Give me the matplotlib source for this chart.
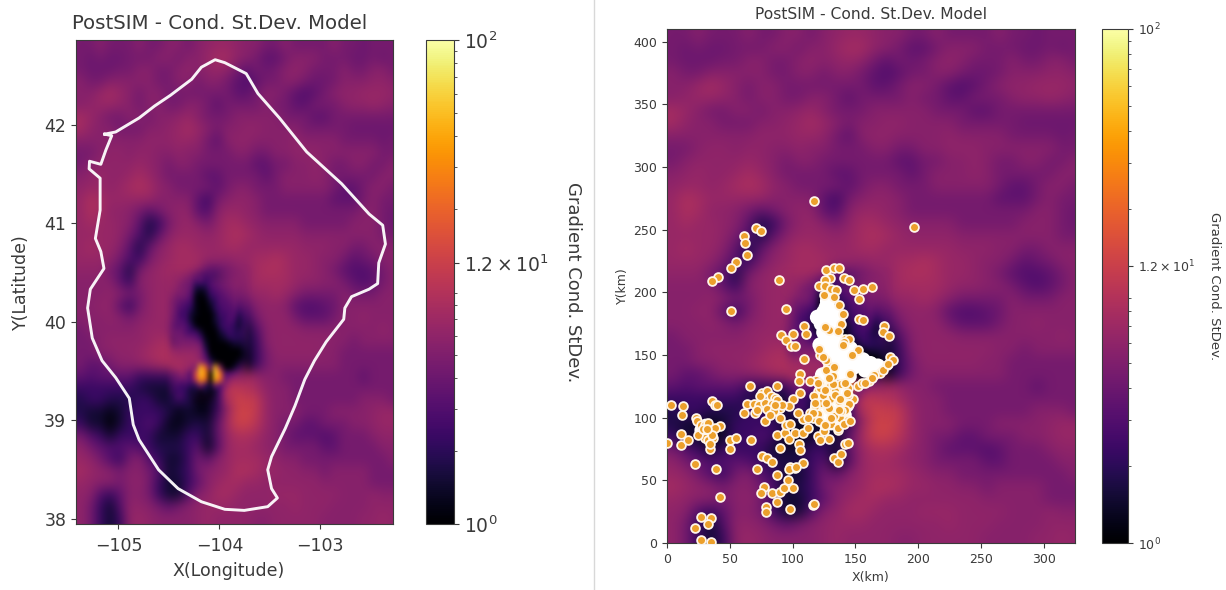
import matplotlib
matplotlib.use("Agg")
import matplotlib.pyplot as plt
import numpy as np
from matplotlib.colors import LogNorm
from matplotlib.ticker import LogLocator, NullFormatter
from matplotlib.lines import Line2D

# Field: rows from y=405 km down to y=5 km, columns x=5..325 km
st_dev = [
[4.5,4.5,5.5,4.5,4.5,4.5,5.5,4.5,4.5,5.5,5.5,4.5,5.5,6,6.5,6.5,6,5.5,5.5,4.5,4.5,5.5,4.5,4.5,4.5,4.5,5.5,4.5,4.5,4,4.5,4.5,4.5],
[4.5,4,4.5,4,4,4.5,4.5,4.5,5.5,5.5,4.5,5.5,5.5,6.5,7.5,7.5,6,5.5,4.5,3.5,3.5,4.5,5.5,5.5,5.5,4.5,4.5,4.5,4,4,4.5,4,4.5],
[4.5,4,4,4,4.5,4.5,5.5,5.5,4.5,4.5,5.5,6,5.5,6,6.5,6,4.5,3.5,4.5,4,4.5,5.5,6,5.5,4.5,4.5,4.5,5.5,4.5,4.5,5.5,5.5,4.5],
[5.5,4.5,4.5,5.5,5.5,5.5,5.5,5.5,4.5,4.5,5.5,5.5,4.5,5.5,5.5,4.5,3.5,3,3.5,4.5,4.5,5.5,5.5,4.5,4,4,4.5,5.5,5.5,5.5,6,6,5.5],
[5.5,5.5,6.5,7.5,6.5,5.5,4.5,5.5,5.5,4.5,4.5,4.5,4.5,4.5,4.5,4.5,3.5,3.5,4.5,5.5,5.5,4.5,3.5,3,3.5,4.5,5.5,6,6,6.5,6.5,6.5,6],
[5.5,6,6.5,6.5,6,5.5,4.5,5.5,5.5,4.5,4.5,5.5,5.5,4.5,3.5,4.5,4.5,4.5,4.5,5.5,4.5,4.5,3.5,3.5,4.5,4.5,4.5,5.5,6,6,6.5,6,5.5],
[7.5,6.5,5.5,4.5,4.5,5.5,5.5,4.5,5.5,5.5,6,6.5,5.5,4.5,4.5,4.5,5.5,5.5,5.5,5.5,5.5,4.5,4.5,4.5,3.5,3.5,4.5,4.5,4.5,4.5,4.5,4.5,4.5],
[7.5,6,5.5,5.5,4.5,4.5,4.5,5.5,5.5,6,6.5,7.5,6.5,5.5,4.5,5.5,5.5,6,6,5.5,5.5,5.5,5.5,4.5,4.5,4.5,4.5,4.5,4,4,4,4,4],
[5.5,5.5,5.5,5.5,5.5,5.5,5.5,6,6,6,6.5,6.5,6,4.5,3.5,5.5,6,6,5.5,5.5,5.5,5.5,6,5.5,5.5,5.5,5.5,4.5,4.5,4.5,4.5,4,4.5],
[4.5,4.5,5.5,6,6,5.5,6,6,5.5,5.5,6,5.5,5.5,4.5,4.5,4.5,5.5,5.5,4.5,4.5,5.5,5.5,6,6,6,5.5,5.5,5.5,5.5,5.5,5.5,4.5,4.5],
[4.5,5.5,6,6,6,6,6.5,6,5.5,4.5,5.5,5.5,4.5,4.5,4.5,4.5,4.5,4.5,3.5,3.5,4.5,4.5,5.5,5.5,6,5.5,4.5,4.5,5.5,5.5,4.5,4.5,5.5],
[5.5,6,6.5,6,6,6.5,7.5,6.5,5.5,4.5,4.5,4.5,4.5,3.5,3.5,4.5,4.5,4.5,4.5,3.5,4.5,5.5,5.5,5.5,6,5.5,4.5,4.5,4.5,4.5,4.5,5.5,5.5],
[6,6.5,6.5,6,6.5,7.5,8.5,7.5,6,5.5,4.5,4.5,4.5,4.5,3.5,4.5,5.5,5.5,4.5,4.5,4.5,5.5,5.5,5.5,5.5,5.5,4.5,3.5,3.5,4.5,5.5,5.5,4.5],
[6.5,8.5,7.5,6.5,6.5,6.5,6.5,6.5,5.5,5.5,5.5,5.5,3.5,2.5,4.5,5.5,6,6,5.5,4.5,4.5,4.5,4.5,4.5,4.5,4.5,3.5,3.5,3.5,4.5,5.5,4.5,4.5],
[6.5,8.5,7.5,6,6,5.5,4.5,3.5,4.5,5.5,6,6,3.5,3,5.5,6.5,6.5,6,5.5,4.5,4.5,4.5,4.5,4.5,4.5,4.5,4.5,4.5,4.5,5.5,5.5,4.5,4],
[6.5,7.5,6.5,6.5,6,5.5,3.5,1.8,2.3,4.5,6,6.5,5.5,4.5,6,7.5,7.5,6.5,6,5.5,5.5,5.5,5.5,4.5,4.5,4.5,4.5,4.5,5.5,5.5,5.5,4.5,4],
[6.5,6.5,6.5,6.5,6,4.5,3,1.8,3.5,5.5,6.5,6.5,6.5,6,6.5,7.5,8.5,7.5,6.5,6,6,6,6,5.5,5.5,5.5,5.5,5.5,5.5,5.5,5.5,4.5,4.5],
[6.5,7.5,6.5,6.5,5.5,3.5,1.8,3.5,5.5,6.5,7.5,7.5,6.5,6.5,6.5,7.5,7.5,6.5,6.5,6.5,6.5,6.5,6.5,6,6,6,5.5,5.5,4.5,4.5,5.5,5.5,5.5],
[6.5,6.5,6.5,6,4.5,3,2.3,4.5,6,6.5,7.5,7.5,7.5,6.5,6.5,6,6.5,6.5,7.5,7.5,8.5,7.5,6.5,6.5,6,5.5,5.5,4.5,3.5,4,4.5,5.5,5.5],
[6,6,6,4.5,3.5,1.8,4.5,6,6.5,7.5,7.5,7.5,6.5,3.5,3.5,4.5,5.5,6,7.5,8.5,8.5,7.5,6.5,6.5,6,5.5,4.5,3.5,3,3,3.5,4.5,5.5],
[5.5,5.5,5.5,5.5,3.5,2.3,5.5,6,6.5,6.5,7.5,6.5,3.5,2.3,1.8,3.5,4.5,6,7.5,7.5,7.5,7.5,6.5,6,6,5.5,5.5,4.5,3.5,3,3.5,4.5,5.5],
[5.5,5.5,5.5,6,5.5,4.5,4.5,6,6.5,6.5,6.5,5.5,3,2.3,1.8,3,3.5,5.5,6.5,6.5,7.5,6.5,5.5,4.5,4.5,4.5,4.5,5.5,4.5,4.5,4.5,5.5,5.5],
[5.5,5.5,6,6,3.5,2.3,4.5,6,6.5,6.5,5.5,3.5,2.3,1.5,1.2,2.3,2.3,3.5,5.5,6,6,5.5,3.5,3,3,3.5,4,5.5,5.5,5.5,5.5,5.5,5.5],
[5.5,5.5,5.5,6,5.5,4.5,5.5,6,6.5,6.5,4.5,3,2.3,1.2,1,1.2,1.8,2.3,4.5,6,6,6,4.5,3.5,3.5,3.5,4.5,5.5,5.5,6,5.5,5.5,5.5],
[4.5,5.5,5.5,5.5,5.5,5.5,6,6.5,6.5,6,3.5,3.5,2.3,1.2,1,1.2,2.3,1.5,3,5.5,6,6,6,5.5,5.5,5.5,5.5,5.5,5.5,5.5,5.5,6,5.5],
[4.5,4.5,5.5,6,6,6,6,6.5,7.5,7.5,6,5.5,5.5,3.5,1.2,1,1.8,1.5,2.3,5.5,6,6,6,6,6,6,5.5,5.5,4.5,5.5,5.5,5.5,5.5],
[4.5,4.5,5.5,5.5,6,6,6.5,7.5,8.5,8.5,7.5,7.5,7.5,6,2.3,1,1,1.2,2.3,4.5,6,6,6,6,6,5.5,5.5,4.5,4.5,4.5,4.5,4.5,4.5],
[4.5,3.5,3.5,4.5,5.5,5.5,6,6.5,7.5,8.5,8.5,7.5,7,3,3.5,1.2,1,1.2,2.3,4.5,5.5,5.5,5.5,5.5,5.5,5.5,5.5,4.5,4.5,4.5,4.5,4.5,4.5],
[3.5,3,3.5,3.5,3.5,3.5,2.3,2.3,2.3,2.3,3.5,4.5,6,3,6,4.5,6.5,7.5,6.5,5.5,5.5,4.5,4.5,4.5,4.5,4.5,4.5,4.5,4.5,3.5,4.5,4.5,4.5],
[2.3,2.3,2.3,2.3,2.3,2.3,1.8,1.5,1.5,1.5,2.3,2.3,3.5,2.3,4.5,6.5,9.5,9.5,7.5,6,5.5,5.5,4.5,4.5,4.5,4.5,4.5,4.5,4.5,4.5,4.5,4.5,4.5],
[1.8,2.3,2.3,1.8,1.8,1.8,2.3,2.3,1.5,1.5,1.8,1.8,1.2,1.2,2.3,6.5,10.5,12,10.5,6.5,5.5,5.5,4.5,4.5,4.5,4.5,4.5,4.5,4.5,5.5,5.5,5.5,4.5],
[1.8,1.5,1.5,1.2,1.5,2.3,2.3,2.3,2.3,1.8,1.2,1.5,1.2,1.2,2.3,6.5,12,13,10.5,6.5,5.5,5.5,5.5,4.5,4.5,4.5,5.5,5.5,5.5,5.5,6,6.5,6.5],
[2.3,1.5,1.5,1,1.5,2.3,2.3,3,2.3,1.3,1.2,1.5,1.8,1.5,3.5,7.5,12,12,9.5,6.5,5.5,4.5,4.5,3.5,3.5,4.5,4.5,4.5,5.5,5.5,6,6.5,6.5],
[4.5,3,2.3,1.5,2.3,2.3,2.3,2.3,1.5,1.5,1.5,2.3,2.3,1.5,3.5,6.5,8.5,8.5,7.5,6,5.5,4.5,3.5,3.5,3.5,3,3.5,4.5,4.5,4.5,5.5,6,6],
[6,4.5,3.5,3,3,3.5,3,2.3,1.8,1.8,1.8,2.3,3.5,1.3,3,6.5,7.5,7.5,6.5,6,5.5,4.5,4.5,4.5,4.5,3.5,3.5,4.5,4.5,4.5,4.5,5.5,5.5],
[6.5,6,4.5,3,2.3,4.5,5.5,3,2.3,1.5,1.5,2.3,4.5,3.5,5.5,6.5,7.5,7.5,7.5,6.5,6,5.5,5.5,4.5,4.5,4.5,4.5,4.5,4.5,4.5,4.5,4.5,5.5],
[7.5,6.5,6,5.5,4.5,5.5,5.5,4.5,3,1.5,1.8,2.3,4.5,5.5,6,6.5,8.5,8.5,7.5,6.5,6.5,6,6,5.5,5.5,4.5,5.5,5.5,5.5,5.5,4.5,4.5,4.5],
[6.5,6,5.5,5.5,4.5,5.5,6,4.5,2.3,1.5,1.5,2.3,3.5,5.5,6.5,7.5,7.5,6.5,6.5,6,6,6,6,6,6,5.5,5.5,5.5,5.5,5.5,4.5,4.5,4.5],
[6,5.5,3,2.3,3.5,5.5,5.5,4.5,2.3,1.5,1.5,3,5.5,6,7.5,7.5,6.5,6,6,6,6.5,6.5,6.5,6,6,6,6,5.5,5.5,5.5,6,5.5,5.5],
[6,4.5,2.3,1.5,3,6,6,5.5,4.5,3.5,4.5,5.5,6,6.5,6.5,6.5,6,6,6,6,6,6,6.5,6,6,6,5.5,5.5,5.5,5.5,6,6,6],
[6,4.5,2.3,1.5,2.3,6,6.5,6,5.5,5.5,5.5,5.5,6,6.5,6,6,6,6,5.5,5.5,6,6,6,6,6,5.5,5.5,5.5,5.5,6,6,6.5,6],
]

# Finer read of the dark core and hot spot: rows y=217.5..97.5 km, columns x=92.5..177.5 km, 5 km apart
core_st_dev = [
[6,6,6,6,5.5,4.5,3.5,3,3,3.5,4,5,5.5,6,6,6,6,6],
[6,6,6,5.5,5,4,3,2.5,2.5,3.5,3.5,5,5.5,6,6,6,6,6],
[6,6,6,5.5,4.5,4,3,3.5,2.5,3,4,4.5,5,5.5,6,6,6,6],
[6,6,5.5,5,4.5,4,2,2,2,3,3.5,4,4.5,5,5.5,6,6,6],
[5.5,5.5,5,5,4.5,3.5,1.5,1.2,1.5,2.5,3,3.5,4,4.5,5,5.5,6,6],
[4,4.5,4,4.5,4,3,1.2,1,1.2,2,2.5,3,3.5,4,4.5,5,5.5,5.5],
[3,3.5,3.5,3.5,3,2.5,1.2,1,1,1.5,2,3,3,3.5,4,4,5,5.5],
[3,4,3,3,2.5,2,1.2,1,1,1.2,2,2.5,3,3,3.5,3,4,5],
[3.5,3.5,3,2.5,2.5,1.5,1.2,1,1,1,1.5,2.5,2.5,3,3,2,3,4.5],
[4,3.5,3,3,2.5,1.5,1,1,1,1,1.5,2,2.5,3,2.5,1.5,2.5,4],
[3.5,3,3,3.5,3,2,1.2,1,1,1,1.2,2,2.5,2.5,2,1.5,2.5,4],
[3,3.5,4,4,3,2.5,2.5,1.5,1,1,1,1.5,2,2.5,2,2,3,4.5],
[2.5,2.5,4,4.5,4,4,3.5,2.5,1.2,1,1,1.2,1.5,2,2,2,2.5,4.5],
[3.5,2.5,4,5,5,5,5,4,1.5,1,1,1,1,1.2,1.5,1.5,2,3.5],
[5.5,5,5.5,6,6,6,6,5,2,1,1,1,1,1,1,1,1.5,3],
[6.5,6.5,7,7,7,7,6.5,5.5,3,1.2,1,1,1,1,1,1,1.5,3],
[7.5,7.5,7.5,7.5,7,7,7,6,4,2,1.2,1,1,1,1,1.5,2.5,4],
[7.5,8,8,7.5,7,6,5,45,20,3,45,5,1,1,1.5,2.5,4,5],
[5,5,5,6,5,3,14,50,30,1,55,24,3,3,4,5,5.5,5.5],
[4,4,4,4,4,3,10,35,20,1,40,20,4,6,7,7,6.5,6],
[3.5,3,3,2.5,2.5,2,2,5,2,1.5,4,3,5.5,8,9,9,8.5,7],
[3,3,2.5,2.5,2,1.5,1.5,1.2,1.5,1.2,1.5,3,7,9.5,10.5,10.5,10,8],
[2.5,2,3,3,2,1.5,1.2,1,1,1,1.5,3,7.5,10,11,12,11,9],
[2,2,2.5,2.5,2,1.5,1,1,1,1.2,1.5,3,8,11,12,13,12,9.5],
[1.5,2,2.5,2.5,2,2,1.5,1,1.2,1.5,1.5,3,8,11,12.5,13,12,9.5],
]

outline_lon = [-105.135,-105.027,-104.795,-104.641,-104.486,-104.274,-104.178,-104.042,-103.946,-103.734,
               -103.618,-103.405,-103.135,-102.788,-102.517,-102.382,-102.355,-102.421,-102.432,-102.517,
               -102.691,-102.757,-102.768,-102.942,-103.058,-103.154,-103.251,-103.347,-103.483,-103.521,
               -103.483,-103.425,-103.521,-103.753,-103.946,-104.178,-104.409,-104.602,-104.795,-104.853,
               -104.892,-105.027,-105.162,-105.259,-105.305,-105.278,-105.143,-105.174,-105.228,-105.181,
               -105.181,-105.290,-105.286,-105.174,-105.124,-105.066]
outline_lat = [41.905,41.927,42.069,42.191,42.298,42.462,42.584,42.660,42.630,42.519,
               42.317,42.069,41.725,41.401,41.095,40.981,40.790,40.599,40.389,40.332,
               40.256,40.141,40.027,39.798,39.607,39.416,39.149,38.920,38.634,38.500,
               38.309,38.214,38.126,38.088,38.099,38.176,38.309,38.500,38.805,38.958,
               39.225,39.435,39.607,39.836,40.141,40.332,40.542,40.714,40.847,41.134,
               41.458,41.553,41.630,41.599,41.744,41.889]

# Overlapping events that read as solid white
core_x = [125,128,123,131,120,127,133,136,134,130,126,122,133,139,148,158,164,142,134,130,152,145,137,155,160,
          128,131,125,136,129,140,146,150,156,162,168,133,139,145,128,124,
          130,123,134,139,133,128,125,137,130,127,143,120,135,124,131,141,28,32,31]
core_y = [184,193,175,175,180,188,184,178,168,165,160,158,154,145,140,138,137,148,145,136,146,150,152,142,141,
          170,160,168,162,152,152,155,150,146,143,141,135,136,133,128,134,
          106,103,110,118,121,98,110,104,114,122,110,108,100,118,96,102,90,86,93]

# Individually visible events
event_x = [117,197,71,75,61,62,64,55,51,41,36,51,89,95,109,111,100,91,95,99,102,109,106,105,88,66,106,100,97,
           3,13,12,36,38,40,23,24,61,64,69,70,73,78,90,108,42,11,11,17,0,50,55,50,67,34,22,39,42,27,35,33,22,27,35,
           72,76,80,84,88,77,75,84,90,93,96,100,79,79,88,98,116,117,108,98,102,97,103,90,88,94,97,102,95,98,
           108,105,106,112,120,122,129,142,144,133,136,139,125,
           27,30,33,28,31,34,30,33,25,38,37,34,36,29,32,
           76,80,83,86,78,84,88,80,90,85,74,82,92,72,86,
           127,133,137,130,126,141,145,149,156,163,153,121,126,131,135,125,133,137,140,139,136,142,145,152,153,156,
           173,172,177,178,180,175,170,161,152,119,114,122,128,127,120,117,119,114,120,125,131,138,144,148,145,139,
           144,130,134,137,130,125,142,133,128,123,118,129,141,146,122,136,
           116,121,126,131,136,141,146,118,124,129,134,139,144,122,127,132,137,142,120,126,132,138,
           127,133,129,124,121,126,140,147,155,165,172,176,163,158,143,116,112,104]
event_y = [273,252,251,249,245,239,230,224,219,212,209,185,210,187,173,167,167,166,162,157,157,147,135,129,125,125,120,115,109,
           110,109,102,113,110,110,100,97,104,111,111,104,110,97,100,99,93,87,78,82,80,82,84,75,82,75,63,59,37,21,20,15,12,2,1,
           59,69,68,65,54,45,40,40,41,44,50,44,29,25,33,27,30,31,64,61,60,59,61,76,86,88,83,88,94,95,
           88,79,74,92,85,82,83,79,80,68,65,71,89,
           94,94,96,88,88,89,84,82,86,92,84,79,86,91,91,
           120,121,117,116,112,111,114,107,108,105,117,102,110,106,110,
           218,219,219,211,210,211,210,202,203,204,195,205,205,203,202,198,196,190,183,175,169,163,163,154,179,178,
           173,168,165,148,146,142,136,129,125,130,129,127,142,138,121,117,110,104,103,94,95,100,98,115,111,127,
           124,125,121,113,115,115,106,101,107,112,109,170,160,135,150,90,
           100,97,94,100,92,95,97,112,118,108,118,105,118,124,112,127,106,128,128,122,133,115,
           146,140,132,148,155,172,158,150,128,134,138,143,132,128,120,104,100,104]

norm = LogNorm(vmin=1, vmax=100)
cmap = "inferno"
TXT = "#3a3a3a"
W, H = 1226, 590
field = np.array(st_dev, dtype=float)
core_field = np.array(core_st_dev, dtype=float)

# Feathered edge so the finer read blends into the coarse one
rows, cols = core_field.shape
edge_r = np.minimum(np.arange(rows), np.arange(rows)[::-1])
edge_c = np.minimum(np.arange(cols), np.arange(cols)[::-1])
feather = np.clip(np.minimum.outer(edge_r, edge_c) / 3, 0, 1)

fig = plt.figure(figsize=(W / 100, H / 100), dpi=100)


def box(x0, x1, y0, y1):
    return [x0 / W, 1 - y1 / H, (x1 - x0) / W, (y1 - y0) / H]


def colorbar(rect, tick_fs, label_fs, pad, im):
    cax = fig.add_axes(box(*rect))
    cb = fig.colorbar(im, cax=cax)
    cb.set_ticks([1, 12, 100], labels=[r"$\mathdefault{10^{0}}$",
                                       r"$\mathdefault{1.2\times10^{1}}$",
                                       r"$\mathdefault{10^{2}}$"])
    cax.yaxis.set_minor_locator(LogLocator(base=10, subs=np.arange(2, 10), numticks=10))
    cax.yaxis.set_minor_formatter(NullFormatter())
    cax.tick_params(axis="y", which="major", labelsize=tick_fs, labelcolor=TXT, color=TXT)
    cax.tick_params(axis="y", which="minor", color=TXT)
    cb.set_label("Gradient Cond. StDev.", rotation=270, fontsize=label_fs, color=TXT, labelpad=pad)
    cb.outline.set_edgecolor(TXT)


def draw_field(ax, to_x, to_y):
    im = ax.imshow(field, cmap=cmap, norm=norm, aspect="auto", interpolation="bicubic",
                   interpolation_stage="rgba", extent=(to_x(0), to_x(330), to_y(0), to_y(410)))
    ax.imshow(core_field, cmap=cmap, norm=norm, aspect="auto", interpolation="bicubic", alpha=feather,
              interpolation_stage="rgba", extent=(to_x(90), to_x(180), to_y(95), to_y(220)))
    return im


# Left panel
ax1 = fig.add_axes(box(76, 393, 40, 524))
lon0, lon1, lat0, lat1 = -105.42, -102.28, 37.95, 42.86
im1 = draw_field(ax1, lambda k: lon0 + (lon1 - lon0) * k / 325, lambda k: lat0 + (lat1 - lat0) * k / 410)
ax1.plot(outline_lon + outline_lon[:1], outline_lat + outline_lat[:1], color="white", lw=2.1, alpha=0.95)
ax1.set_xlim(lon0, lon1)
ax1.set_ylim(lat0, lat1)
ax1.set_xticks([-105, -104, -103])
ax1.set_yticks([38, 39, 40, 41, 42])
ax1.tick_params(labelsize=12.5, labelcolor=TXT, color=TXT)
ax1.tick_params(axis="x", pad=6)
ax1.set_xlabel("X(Longitude)", fontsize=12.5, color=TXT, labelpad=5, x=0.48)
ax1.set_ylabel("Y(Latitude)", fontsize=12.5, color=TXT, labelpad=10)
ax1.set_title("PostSIM - Cond. St.Dev. Model", fontsize=14.2, color=TXT, pad=8, x=0.454)
for s in ax1.spines.values():
    s.set_edgecolor(TXT)
colorbar((426, 454, 40, 524), 13.5, 13, 24, im1)

# Right panel
ax2 = fig.add_axes(box(667, 1075, 29, 543))
im2 = draw_field(ax2, lambda k: k, lambda k: k)
ax2.scatter(core_x, core_y, s=125, c="white", edgecolors="none", zorder=3)
ax2.scatter(event_x, event_y, s=40, c="#eca02c", edgecolors="#fff6ea", linewidths=1.3, zorder=4)
ax2.set_xlim(0, 325)
ax2.set_ylim(0, 410)
ax2.set_xticks(np.arange(0, 301, 50))
ax2.set_yticks(np.arange(0, 401, 50))
ax2.tick_params(labelsize=9, labelcolor=TXT, color=TXT)
ax2.set_xlabel("X(km)", fontsize=9, color=TXT, labelpad=4)
ax2.set_ylabel("Y(km)", fontsize=9, color=TXT, labelpad=3)
ax2.set_title("PostSIM - Cond. St.Dev. Model", fontsize=11.2, color=TXT, pad=7)
for s in ax2.spines.values():
    s.set_edgecolor(TXT)
colorbar((1102, 1128, 29, 543), 9, 9.5, 19, im2)

# Thin divider between the two screenshots
fig.add_artist(Line2D([594 / W, 594 / W], [0, 1], color="#d8d8d8", lw=1))

fig.savefig("out.png", dpi=100)
